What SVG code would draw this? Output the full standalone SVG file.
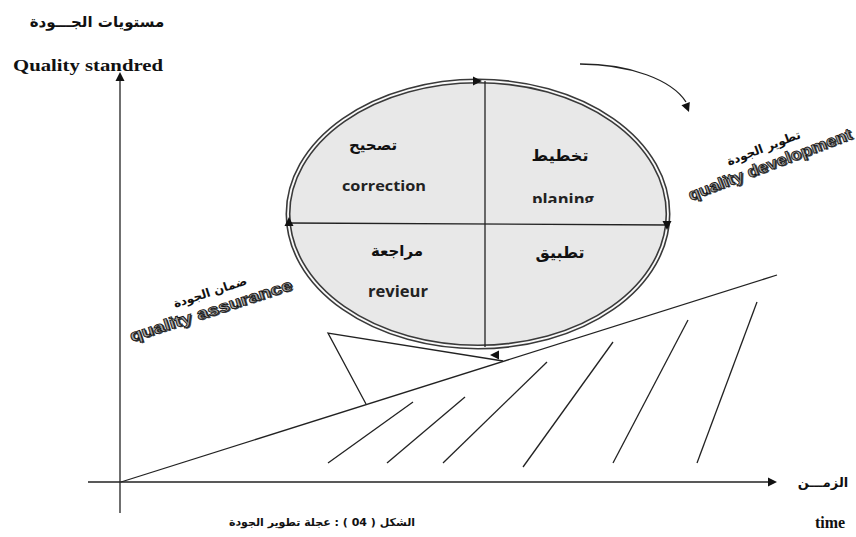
<svg xmlns="http://www.w3.org/2000/svg" xmlns:xlink="http://www.w3.org/1999/xlink" width="856" height="537" viewBox="0 0 856 537">
<style>
  .ln{stroke:#222;stroke-width:1.3;fill:none}
  .ar{font-family:"DejaVu Sans","Noto Sans",sans-serif;font-weight:bold;fill:#111}
  .lat{font-family:"Open Sans","Liberation Sans",sans-serif;font-weight:bold;fill:#222}
  .ser{font-family:"Liberation Serif",serif;font-weight:bold;fill:#111}
  .wa{font-family:"Liberation Sans",sans-serif;font-weight:bold;fill:#a8a8a8;stroke:#111;stroke-width:0.8}
  .wash{font-family:"Liberation Sans",sans-serif;font-weight:bold;fill:#444}
  .head{fill:#111}
</style>
<defs>
  <path id="ah" d="M0,0 L-9,-4.5 L-9,4.5 Z"/>
  <clipPath id="clipPlan"><rect x="515" y="178" width="100" height="25"/></clipPath>
</defs>
<rect width="856" height="537" fill="#fff"/>

<g id="axis-labels">
  <text class="ar" x="97" y="27" font-size="15" text-anchor="middle" direction="rtl">مستويات الجـــودة</text>
  <text class="ser" x="13" y="71" font-size="17" textLength="150" lengthAdjust="spacingAndGlyphs">Quality standred</text>
  <text class="ar" x="823" y="487" font-size="13" text-anchor="middle" direction="rtl">الزمـــن</text>
  <text class="ser" x="830" y="528" font-size="16" text-anchor="middle">time</text>
  <text class="ar" x="322" y="526" font-size="11" text-anchor="middle" direction="rtl">الشكل ( 04 ) : عجلة تطوير الجودة</text>
</g>

<g id="wheel">
  <ellipse cx="478" cy="214" rx="190" ry="133" fill="#e8e8e8" stroke="#3a3a3a" stroke-width="5"/>
  <ellipse cx="478" cy="214" rx="190" ry="133" fill="none" stroke="#fafafa" stroke-width="1.8"/>
  <line class="ln" x1="485" y1="81" x2="485" y2="347"/>
  <line class="ln" x1="288" y1="223" x2="668" y2="225"/>
</g>

<g id="node-correction">
  <text class="ar" x="373" y="150" font-size="15" text-anchor="middle" direction="rtl">تصحيح</text>
  <text class="lat" x="384" y="191" font-size="15" text-anchor="middle" textLength="84" lengthAdjust="spacingAndGlyphs">correction</text>
</g>
<g id="node-planing">
  <text class="ar" x="560" y="161" font-size="16" text-anchor="middle" direction="rtl">تخطيط</text>
  <text class="lat" x="563" y="205" font-size="16" text-anchor="middle" textLength="62" lengthAdjust="spacingAndGlyphs" clip-path="url(#clipPlan)">planing</text>
</g>
<g id="node-review">
  <text class="ar" x="397" y="256" font-size="15" text-anchor="middle" direction="rtl">مراجعة</text>
  <text class="lat" x="398" y="297" font-size="16" text-anchor="middle" textLength="60" lengthAdjust="spacingAndGlyphs">revieur</text>
</g>
<g id="node-apply">
  <text class="ar" x="560" y="258" font-size="16" text-anchor="middle" direction="rtl">تطبيق</text>
</g>

<g id="label-development" transform="translate(769,162) rotate(-21)">
  <text class="ar" x="0" y="-11" font-size="12" text-anchor="middle" direction="rtl">تطوير الجودة</text>
  <text class="wash" x="1.3" y="9.3" font-size="16" text-anchor="middle" textLength="174" lengthAdjust="spacingAndGlyphs">quality development</text>
  <text class="wa" x="0" y="8" font-size="16" text-anchor="middle" textLength="174" lengthAdjust="spacingAndGlyphs">quality development</text>
</g>
<g id="label-assurance" transform="translate(210,308) rotate(-18)">
  <text class="ar" x="5" y="-11" font-size="12" text-anchor="middle" direction="rtl">ضمان الجودة</text>
  <text class="wash" x="1.3" y="9.3" font-size="16" text-anchor="middle" textLength="170" lengthAdjust="spacingAndGlyphs">quality assurance</text>
  <text class="wa" x="0" y="8" font-size="16" text-anchor="middle" textLength="170" lengthAdjust="spacingAndGlyphs">quality assurance</text>
</g>

<g id="connectors">
  <line class="ln" x1="120" y1="76" x2="120" y2="513"/>
  <use href="#ah" class="head" transform="translate(120,72) rotate(-90)"/>
  <line class="ln" x1="88" y1="482" x2="772" y2="482"/>
  <use href="#ah" class="head" transform="translate(777,482)"/>
  <path class="ln" d="M580,64 C630,64 672,80 686,102"/>
  <use href="#ah" class="head" transform="translate(689,112) rotate(68)"/>
  <use href="#ah" class="head" transform="translate(482,81)"/>
  <use href="#ah" class="head" transform="translate(289,217) rotate(-90)"/>
  <use href="#ah" class="head" transform="translate(667,230) rotate(90)"/>
  <use href="#ah" class="head" transform="translate(490,355) rotate(180)"/>
  <line class="ln" x1="121" y1="482" x2="777" y2="275"/>
  <polyline class="ln" points="503,361 328,333 366,404"/>
  <line class="ln" x1="328" y1="463" x2="413" y2="402"/>
  <line class="ln" x1="387" y1="463" x2="465" y2="397"/>
  <line class="ln" x1="443" y1="463" x2="547" y2="362"/>
  <line class="ln" x1="523" y1="467" x2="613" y2="342"/>
  <line class="ln" x1="613" y1="463" x2="688" y2="320"/>
  <line class="ln" x1="697" y1="463" x2="757" y2="302"/>
</g>
</svg>
